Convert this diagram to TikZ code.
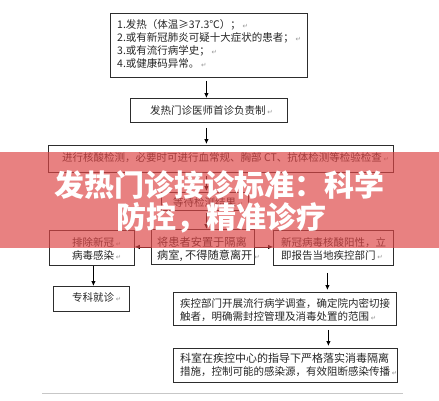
\documentclass[tikz,border=0pt]{standalone}
\usepackage{fontspec}
\setmainfont{Noto Sans CJK SC}
\newfontfamily\symfont{DejaVu Sans}
\usetikzlibrary{arrows.meta}
\definecolor{boxline}{RGB}{45,45,45}
\definecolor{bannerred}{RGB}{222,70,70}
\definecolor{retmark}{RGB}{150,150,150}
\newcommand{\rmark}{\,{\symfont\color{retmark}\fontsize{6.5}{7}\selectfont ↵}}
\tikzset{
  box/.style={draw=boxline, line width=0.8pt, inner sep=0pt, anchor=north west},
  txt/.style={inner sep=0pt, anchor=base west, font=\fontsize{10.5}{12}\selectfont, text=black!85},
  arr/.style={-{Latex[length=5pt,width=4.5pt]}, line width=0.8pt, draw=black},
  title/.style={inner sep=0pt, text=white, font=\fontsize{30}{30}\selectfont\bfseries}
}
\begin{document}
\begin{tikzpicture}[x=1pt,y=-1pt]
\useasboundingbox (0,0) rectangle (439,400);
\fill[white] (0,0) rectangle (439,400);
% boxes
\node[box, minimum width=197pt, minimum height=64pt] (b1) at (110,13) {};
\node[box, minimum width=157pt, minimum height=24pt] (b2) at (130,98) {};
\node[box, minimum width=345pt, minimum height=27pt] (b3) at (48,145) {};
\node[box, minimum width=87pt, minimum height=18pt] (b4) at (161,192) {};
\node[box, minimum width=85pt, minimum height=35pt] (b5L) at (49,230) {};
\node[box, minimum width=103pt, minimum height=35pt] (b5M) at (151,229) {};
\node[box, minimum width=120pt, minimum height=35pt] (b5R) at (273,230) {};
\node[box, minimum width=76pt, minimum height=25pt] (b6) at (53,286) {};
\node[box, minimum width=223pt, minimum height=33pt] (b7) at (173,292) {};
\node[box, minimum width=224pt, minimum height=34pt] (b8) at (173,348) {};
% texts
\node[txt] (t1a) at (117,28) {1.发热（体温≥37.3℃）；\rmark};
\node[txt] (t1b) at (117,41) {2.或有新冠肺炎可疑十大症状的患者；\rmark};
\node[txt] (t1c) at (117,54) {3.或有流行病学史；\rmark};
\node[txt] (t1d) at (117,67) {4.或健康码异常。\rmark};
\node[txt] (t2) at (150,114) {发热门诊医师首诊负责制\rmark};
\node[txt] (t3) at (62,161) {进行核酸检测，必要时可进行血常规、胸部 CT、抗体检测等检验检查\rmark};
\node[txt] (t4) at (173,206) {等待检测结果\rmark};
\node[txt] (t5La) at (72,246) {排除新冠\rmark};
\node[txt] (t5Lb) at (72,259) {病毒感染\rmark};
\node[txt, font=\fontsize{11.2}{12}\selectfont] (t5Ma) at (157,246) {将患者安置于隔离};
\node[txt, font=\fontsize{11.2}{12}\selectfont] (t5Mb) at (157,259) {病室, 不得随意离开\rmark};
\node[txt] (t5Ra) at (281,246) {新冠病毒核酸阳性，立};
\node[txt] (t5Rb) at (281,259) {即报告当地疾控部门\rmark};
\node[txt] (t6) at (72,301) {专科就诊\rmark};
\node[txt] (t7a) at (180,307) {疾控部门开展流行病学调查，确定院内密切接};
\node[txt] (t7b) at (180,320) {触者，明确需封控管理及消毒处置的范围\rmark};
\node[txt, font=\fontsize{11}{12}\selectfont] (t8a) at (180,362) {科室在疾控中心的指导下严格落实消毒隔离};
\node[txt] (t8b) at (180,375) {措施，控制可能的感染源，有效阻断感染传播\rmark};
% arrows
\draw[arr, shorten <=3pt] ([xshift=-2.5pt]b1.south) -- ([xshift=-2.5pt]b1.south |- b2.north);
\draw[arr, shorten <=5pt, shorten >=1pt] ([xshift=-2.5pt]b2.south) -- ([xshift=-2.5pt]b2.south |- b3.north);
\draw[arr, shorten <=3pt, shorten >=1pt] ([xshift=-14.5pt]b3.south) -- ([xshift=-14.5pt]b3.south |- b4.north);
\draw[arr, shorten <=2pt] ([xshift=1.5pt]b4.south) -- ([xshift=1.5pt]b4.south |- b5M.north);
\draw[arr] (b5M.west) -- (b5M.west -| b5L.east);
\draw[arr] (b5M.east) -- (b5M.east -| b5R.west);
\draw[arr] ([xshift=1.5pt]b5L.south) -- ([xshift=1.5pt]b5L.south |- b6.north);
\draw[arr, shorten <=7pt, shorten >=2pt] ([xshift=-6pt]b5R.south) -- ([xshift=-6pt]b5R.south |- b7.north);
\draw[arr, shorten <=4pt, shorten >=2pt] ([xshift=43.5pt]b7.south) -- ([xshift=43.5pt]b7.south |- b8.north);
% bottom rule
\draw[black!22, line width=0.8pt] (42,393) -- (403,393);
% banner
\fill[bannerred, opacity=0.68] (0,152) rectangle (439,248);
\node[title] (h1) at (219.5,185) {发热门诊接诊标准：科学};
\node[title] (h2) at (221.5,218) {防控，精准诊疗};
\end{tikzpicture}
\end{document}
